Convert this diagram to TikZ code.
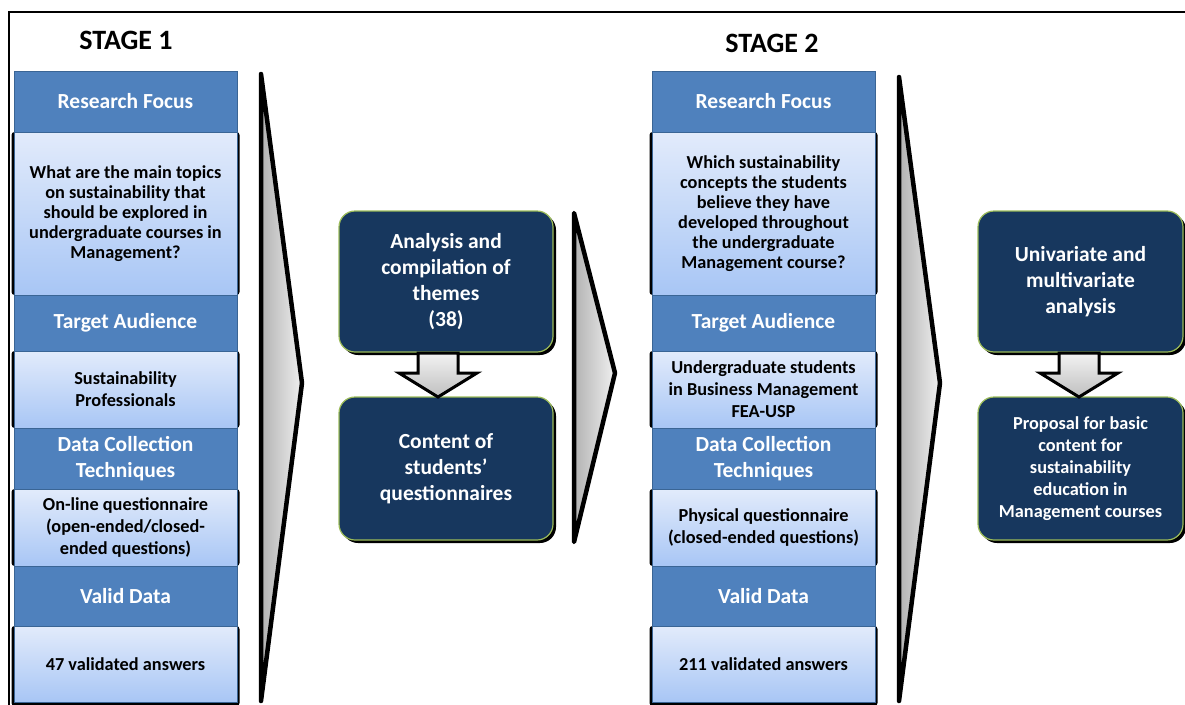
\documentclass[tikz,border=0pt]{standalone}
\usepackage{fontspec}
\setmainfont{Carlito}
\usetikzlibrary{shadows}
\definecolor{hdrblue}{HTML}{4F81BD}
\definecolor{hdredge}{HTML}{3A6595}
\definecolor{lighttop}{HTML}{E2EBFB}
\definecolor{lightbot}{HTML}{A8C6F5}
\definecolor{darkbox}{HTML}{17375E}
\definecolor{greenedge}{HTML}{9BBB59}
\begin{document}
\begin{tikzpicture}[x=1pt,y=-1pt,
  hdr/.style={fill=hdrblue, draw=hdredge, line width=0.6pt, text=white,
    font=\bfseries\fontsize{21.5}{26}\selectfont, minimum width=223pt,
    inner sep=0pt, align=center},
  lbox/.style={top color=lighttop, bottom color=lightbot, draw=hdredge,
    line width=0.6pt, text=black, font=\bfseries\fontsize{18.3}{22}\selectfont,
    minimum width=223pt, inner sep=0pt, align=center},
  lshadow/.style={fill=black, rounded corners=3pt},
  dbox/.style={fill=darkbox, draw=greenedge, line width=1.2pt, rounded corners=16pt,
    text=white, align=center, inner sep=0pt,
    drop shadow={fill=black, opacity=1, shadow xshift=3pt, shadow yshift=-3pt}},
  chev/.style={draw=black, line width=4.5pt, line join=round, left color=gray!60, right color=gray!12},
  downarr/.style={draw=black, line width=3pt, line join=miter, top color=gray!10, bottom color=gray!50},
  stage/.style={font=\bfseries\fontsize{28}{32}\selectfont, text=black},
  frame/.style={line width=2pt}
]
\useasboundingbox (0,0) rectangle (1185,704);
\clip (0,0) rectangle (1185,704);

% frame
\draw[frame] (9,706) -- (9,12) -- (1186,12);

% stage titles
\node[stage] (s1) at (126,40) {STAGE 1};
\node[stage] (s2) at (772,43) {STAGE 2};

% ---------- Stage 1 column ----------
\fill[lshadow] (11.5,132) rectangle (239.5,295);
\fill[lshadow] (11.5,351) rectangle (239.5,428);
\fill[lshadow] (11.5,489) rectangle (239.5,566);
\fill[lshadow] (11.5,626) rectangle (239.5,706);

\node[hdr, minimum height=61pt] (rf1) at (125.5,101.5) {Research Focus};
\node[lbox, minimum height=163pt, font=\bfseries\fontsize{18.3}{20}\selectfont] (q1) at (125.5,213.5)
  {What are the main topics\\on sustainability that\\should be explored in\\undergraduate courses in\\Management?};
\node[hdr, minimum height=56pt] (ta1) at (125.5,323) {Target Audience};
\node[lbox, minimum height=77pt] (sp1) at (125.5,389.5) {Sustainability\\Professionals};
\node[hdr, minimum height=61pt] (dc1) at (125.5,458.5) {Data Collection\\Techniques};
\node[lbox, minimum height=77pt] (oq1) at (125.5,527.5) {On-line questionnaire\\(open-ended/closed-\\ended questions)};
\node[hdr, minimum height=60pt] (vd1) at (125.5,596) {Valid Data};
\node[lbox, minimum height=76pt] (va1) at (125.5,664) {47 validated answers};

% ---------- Stage 2 column ----------
\fill[lshadow] (649.5,132) rectangle (877.5,295);
\fill[lshadow] (649.5,351) rectangle (877.5,428);
\fill[lshadow] (649.5,489) rectangle (877.5,566);
\fill[lshadow] (649.5,626) rectangle (877.5,706);

\node[hdr, minimum height=61pt] (rf2) at (763.5,101.5) {Research Focus};
\node[lbox, minimum height=163pt, font=\bfseries\fontsize{18.3}{20}\selectfont] (q2) at (763.5,213.5)
  {Which sustainability\\concepts the students\\believe they have\\developed throughout\\the undergraduate\\Management course?};
\node[hdr, minimum height=56pt] (ta2) at (763.5,323) {Target Audience};
\node[lbox, minimum height=77pt] (sp2) at (763.5,389.5) {Undergraduate students\\in Business Management\\FEA-USP};
\node[hdr, minimum height=61pt] (dc2) at (763.5,458.5) {Data Collection\\Techniques};
\node[lbox, minimum height=77pt] (oq2) at (763.5,527.5) {Physical questionnaire\\(closed-ended questions)};
\node[hdr, minimum height=60pt] (vd2) at (763.5,596) {Valid Data};
\node[lbox, minimum height=76pt] (va2) at (763.5,664) {211 validated answers};

% ---------- chevrons ----------
\draw[chev] (261,74) -- (302,383) -- (261,701) -- cycle;
\draw[chev] (574,213) -- (615,373) -- (574,542) -- cycle;
\draw[chev] (899,77) -- (940,383) -- (899,701) -- cycle;

% ---------- middle dark boxes ----------
\node[dbox, minimum width=214pt, minimum height=141pt,
  font=\bfseries\fontsize{21.5}{26}\selectfont] (an) at (446,281.5)
  {Analysis and\\compilation of\\themes\\(38)};
\node[dbox, minimum width=214pt, minimum height=143pt,
  font=\bfseries\fontsize{21.5}{26}\selectfont] (co) at (446,468.5)
  {Content of\\students'\\questionnaires};
\draw[downarr] (418,353) -- (458,353) -- (458,373) -- (477,373) -- (438,397)
  -- (399,373) -- (418,373) -- cycle;

% ---------- right dark boxes ----------
\node[dbox, minimum width=205pt, minimum height=141pt,
  font=\bfseries\fontsize{21.5}{26}\selectfont] (uv) at (1080.5,281.5)
  {Univariate and\\multivariate\\analysis};
\node[dbox, minimum width=205pt, minimum height=143pt,
  font=\bfseries\fontsize{18.3}{22}\selectfont] (pr) at (1080.5,468.5)
  {Proposal for basic\\content for\\sustainability\\education in\\Management courses};
\draw[downarr] (1059,353) -- (1099,353) -- (1099,373) -- (1118,373) -- (1079,397)
  -- (1040,373) -- (1059,373) -- cycle;
\end{tikzpicture}
\end{document}
